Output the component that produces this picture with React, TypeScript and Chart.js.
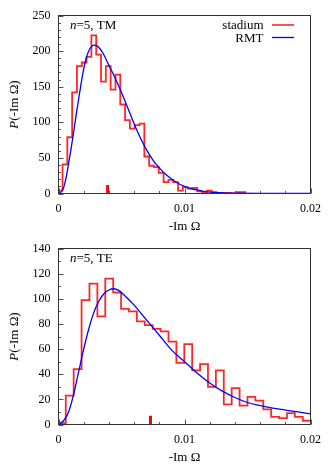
import React, { useEffect, useRef } from "react";
import { Chart, registerables } from "chart.js";

Chart.register(...registerables);

// ---------------- Data ----------------
const xTickValues = [0, 0.01, 0.02];
const xTickLabels = ["0", "0.01", "0.02"];

// Panel 1: n=5, TM
const tmYTicks = [0, 50, 100, 150, 200, 250];
const tmBinStart = -0.000064;
const tmBinWidth = 0.000382;
const tmCounts = [
  4, 41, 79, 142, 179, 184, 192, 222, 195, 157, 179, 146, 167, 125, 103, 91, 96, 98, 52, 39,
  37, 29, 16, 19, 16, 4, 9, 7, 8, 3, 2, 4, 2, 1, 1, 1, 0, 2, 2,
];
const tmCurveX = [
  0, 0.0002, 0.0004, 0.0006, 0.0008, 0.001, 0.0012, 0.0014, 0.0016, 0.0018, 0.002, 0.0022,
  0.0024, 0.0026, 0.0028, 0.003, 0.0032, 0.0035, 0.004, 0.0045, 0.005, 0.0055, 0.006, 0.0065,
  0.007, 0.0075, 0.008, 0.0085, 0.009, 0.0095, 0.01, 0.0105, 0.011, 0.0115, 0.012, 0.013,
  0.014, 0.016, 0.018, 0.02,
];
const tmCurveY = [
  0, 2, 8, 22, 42, 63, 86, 110, 133, 155, 175, 190, 200, 206, 208.5, 208, 205, 198, 180, 162,
  142, 120, 98, 78, 61, 47, 36, 27, 20, 14, 10, 7, 5, 3, 2, 1, 0.5, 0.1, 0, 0,
];
const tmMarkerX = 0.0039;
const tmMarkerH = 12;

// Panel 2: n=5, TE
const teYTicks = [0, 20, 40, 60, 80, 100, 120, 140];
const teBinStart = -0.00005;
const teBinWidth = 0.000627;
const teCounts = [
  1, 23, 44, 99, 112, 86, 116, 105, 92, 90, 82, 79, 76, 74, 66, 49, 64, 43, 48, 30, 43, 16,
  29, 15, 22, 19, 12, 6, 5, 9, 6, 3,
];
const teCurveX = [
  0, 0.0004, 0.0008, 0.0012, 0.0016, 0.002, 0.0024, 0.0028, 0.0032, 0.0036, 0.004, 0.0044,
  0.0048, 0.0052, 0.006, 0.007, 0.008, 0.009, 0.01, 0.011, 0.012, 0.013, 0.014, 0.015, 0.016,
  0.017, 0.018, 0.019, 0.02,
];
const teCurveY = [
  0, 3, 10, 24, 42, 60, 76, 89, 98, 104, 107, 108, 106.5, 103, 95, 83, 71, 59, 50, 41, 33,
  26.5, 21.5, 17.5, 15, 13, 11.5, 10, 8.5,
];
const teMarkerX = 0.0073;
const teMarkerH = 7;

// ---------------- Styles ----------------
const SERIF = '"Liberation Serif", "DejaVu Serif", serif';
const RED = "rgba(255,0,0,0.85)";
const BLUE = "#0000ff";
const FRAME = "#333333";

type PanelProps = {
  top: number;
  height: number;
  plotLeft: number;
  plotRight: number;
  plotTop: number;
  plotBottom: number;
  binStart: number;
  binWidth: number;
  counts: number[];
  closeHist: boolean;
  curveX: number[];
  curveY: number[];
  markerX: number;
  markerH: number;
  yMax: number;
  yTicks: number[];
  yMinorStep: number;
  mode: string;
  legend: boolean;
};

function Panel(p: PanelProps) {
  const ref = useRef<HTMLCanvasElement | null>(null);

  useEffect(() => {
    if (!ref.current) return;
    const hist = p.counts.map((c, i) => ({ x: p.binStart + i * p.binWidth, y: c }));
    const endX = p.binStart + p.counts.length * p.binWidth;
    hist.push({ x: endX, y: p.counts[p.counts.length - 1] });
    if (p.closeHist) hist.push({ x: endX, y: 0 });
    const curve = p.curveX.map((x, i) => ({ x, y: p.curveY[i] }));

    const deco = {
      id: "deco",
      afterDraw(chart: any) {
        const { ctx, chartArea } = chart;
        const { left, right, top, bottom } = chartArea;
        const xs = chart.scales.x;
        const ys = chart.scales.y;
        ctx.save();
        // inner tick marks
        ctx.strokeStyle = "#555555";
        ctx.lineWidth = 1;
        ctx.beginPath();
        const nMinorY = Math.round(p.yMax / p.yMinorStep);
        for (let i = 0; i <= nMinorY; i++) {
          const v = i * p.yMinorStep;
          const py = Math.round(ys.getPixelForValue(v)) + 0.5;
          const len = p.yTicks.includes(v) ? 5 : 2.5;
          ctx.moveTo(left, py);
          ctx.lineTo(left + len, py);
        }
        for (let i = 0; i <= 10; i++) {
          const v = i * 0.002;
          const px = Math.round(xs.getPixelForValue(v)) + 0.5;
          const len = i % 5 === 0 ? 5 : 2.5;
          ctx.moveTo(px, bottom);
          ctx.lineTo(px, bottom - len);
        }
        ctx.stroke();
        // frame
        ctx.strokeStyle = FRAME;
        ctx.lineWidth = 1;
        ctx.strokeRect(left, top, right - left, bottom - top);

        ctx.fillStyle = "#000";
        // mode annotation: n=5, TM
        ctx.textBaseline = "alphabetic";
        ctx.textAlign = "left";
        let tx = left + 11.5;
        const ty = top + 13;
        ctx.font = `italic 13px ${SERIF}`;
        ctx.fillText("n", tx, ty);
        tx += ctx.measureText("n").width;
        ctx.font = `13px ${SERIF}`;
        ctx.fillText("=5, " + p.mode, tx, ty);

        // legend
        if (p.legend) {
          ctx.font = `13px ${SERIF}`;
          ctx.textAlign = "right";
          ctx.fillText("stadium", right - 47, top + 13.5);
          ctx.fillText("RMT", right - 47, top + 26);
          ctx.lineWidth = 1.6;
          ctx.strokeStyle = RED;
          ctx.beginPath();
          ctx.moveTo(right - 38.5, top + 9.5);
          ctx.lineTo(right - 16.5, top + 9.5);
          ctx.stroke();
          ctx.lineWidth = 1.3;
          ctx.strokeStyle = BLUE;
          ctx.beginPath();
          ctx.moveTo(right - 38.5, top + 22);
          ctx.lineTo(right - 16.5, top + 22);
          ctx.stroke();
        }

        // x title
        ctx.textAlign = "center";
        ctx.font = `13px ${SERIF}`;
        ctx.fillText("-Im Ω", (left + right) / 2, bottom + 36);

        // y title (rotated, italic P)
        ctx.translate(13.3, (top + bottom) / 2);
        ctx.rotate(-Math.PI / 2);
        ctx.font = `italic 13px ${SERIF}`;
        const wP = ctx.measureText("P").width;
        ctx.font = `13px ${SERIF}`;
        const wR = ctx.measureText("(-Im Ω)").width;
        const start = -(wP + wR) / 2;
        ctx.textAlign = "left";
        ctx.font = `italic 13px ${SERIF}`;
        ctx.fillText("P", start, 4.3);
        ctx.font = `13px ${SERIF}`;
        ctx.fillText("(-Im Ω)", start + wP, 4.3);
        ctx.restore();
      },
    };

    const chart = new Chart(ref.current, {
      type: "line",
      data: {
        datasets: [
          {
            label: "RMT",
            data: curve,
            borderColor: BLUE,
            borderWidth: 1.3,
            pointRadius: 0,
            cubicInterpolationMode: "monotone",
          },
          {
            label: "stadium",
            data: hist,
            borderColor: RED,
            borderWidth: 1.8,
            pointRadius: 0,
            stepped: true,
          },
          {
            label: "marker",
            data: [
              { x: p.markerX, y: 0 },
              { x: p.markerX, y: p.markerH },
            ],
            borderColor: "#ff0000",
            borderWidth: 3,
            pointRadius: 0,
          },
        ],
      } as any,
      options: {
        animation: false,
        responsive: false,
        maintainAspectRatio: false,
        layout: {
          padding: { left: 0, right: 332 - p.plotRight, top: p.plotTop, bottom: 0 },
        },
        plugins: {
          legend: { display: false },
          tooltip: { enabled: false },
        },
        scales: {
          x: {
            type: "linear",
            min: 0,
            max: 0.02,
            afterBuildTicks: (s: any) => {
              s.ticks = xTickValues.map((v) => ({ value: v }));
            },
            afterFit: (s: any) => {
              s.height = p.height - p.plotBottom;
            },
            ticks: {
              autoSkip: false,
              maxRotation: 0,
              padding: 8,
              color: "#000",
              font: { family: SERIF, size: 12 },
              callback: (v: any) => {
                const i = xTickValues.indexOf(Number(v));
                return i >= 0 ? xTickLabels[i] : "";
              },
            },
            grid: { display: false, drawTicks: false },
            border: { display: false },
          },
          y: {
            type: "linear",
            min: 0,
            max: p.yMax,
            afterBuildTicks: (s: any) => {
              s.ticks = p.yTicks.map((v) => ({ value: v }));
            },
            afterFit: (s: any) => {
              s.width = p.plotLeft;
            },
            ticks: {
              autoSkip: false,
              padding: 8,
              color: "#000",
              font: { family: SERIF, size: 12 },
              callback: (v: any) => String(v),
            },
            grid: { display: false, drawTicks: false },
            border: { display: false },
          },
        },
      } as any,
      plugins: [deco],
    });
    return () => chart.destroy();
  }, []);

  return (
    <canvas
      ref={ref}
      width={332}
      height={p.height}
      style={{ position: "absolute", left: 0, top: p.top, width: 332, height: p.height, display: "block" }}
    />
  );
}

export default function App() {
  return (
    <div style={{ position: "absolute", left: 0, top: 0, width: 332, height: 465, background: "#fff" }}>
      <Panel
        top={0}
        height={232}
        plotLeft={58.5}
        plotRight={310.5}
        plotTop={15.5}
        plotBottom={193.5}
        binStart={tmBinStart}
        binWidth={tmBinWidth}
        counts={tmCounts}
        closeHist={true}
        curveX={tmCurveX}
        curveY={tmCurveY}
        markerX={tmMarkerX}
        markerH={tmMarkerH}
        yMax={250}
        yTicks={tmYTicks}
        yMinorStep={10}
        mode="TM"
        legend={true}
      />
      <Panel
        top={232}
        height={233}
        plotLeft={58.5}
        plotRight={310.5}
        plotTop={16.5}
        plotBottom={192.5}
        binStart={teBinStart}
        binWidth={teBinWidth}
        counts={teCounts}
        closeHist={false}
        curveX={teCurveX}
        curveY={teCurveY}
        markerX={teMarkerX}
        markerH={teMarkerH}
        yMax={140}
        yTicks={teYTicks}
        yMinorStep={10}
        mode="TE"
        legend={false}
      />
    </div>
  );
}
